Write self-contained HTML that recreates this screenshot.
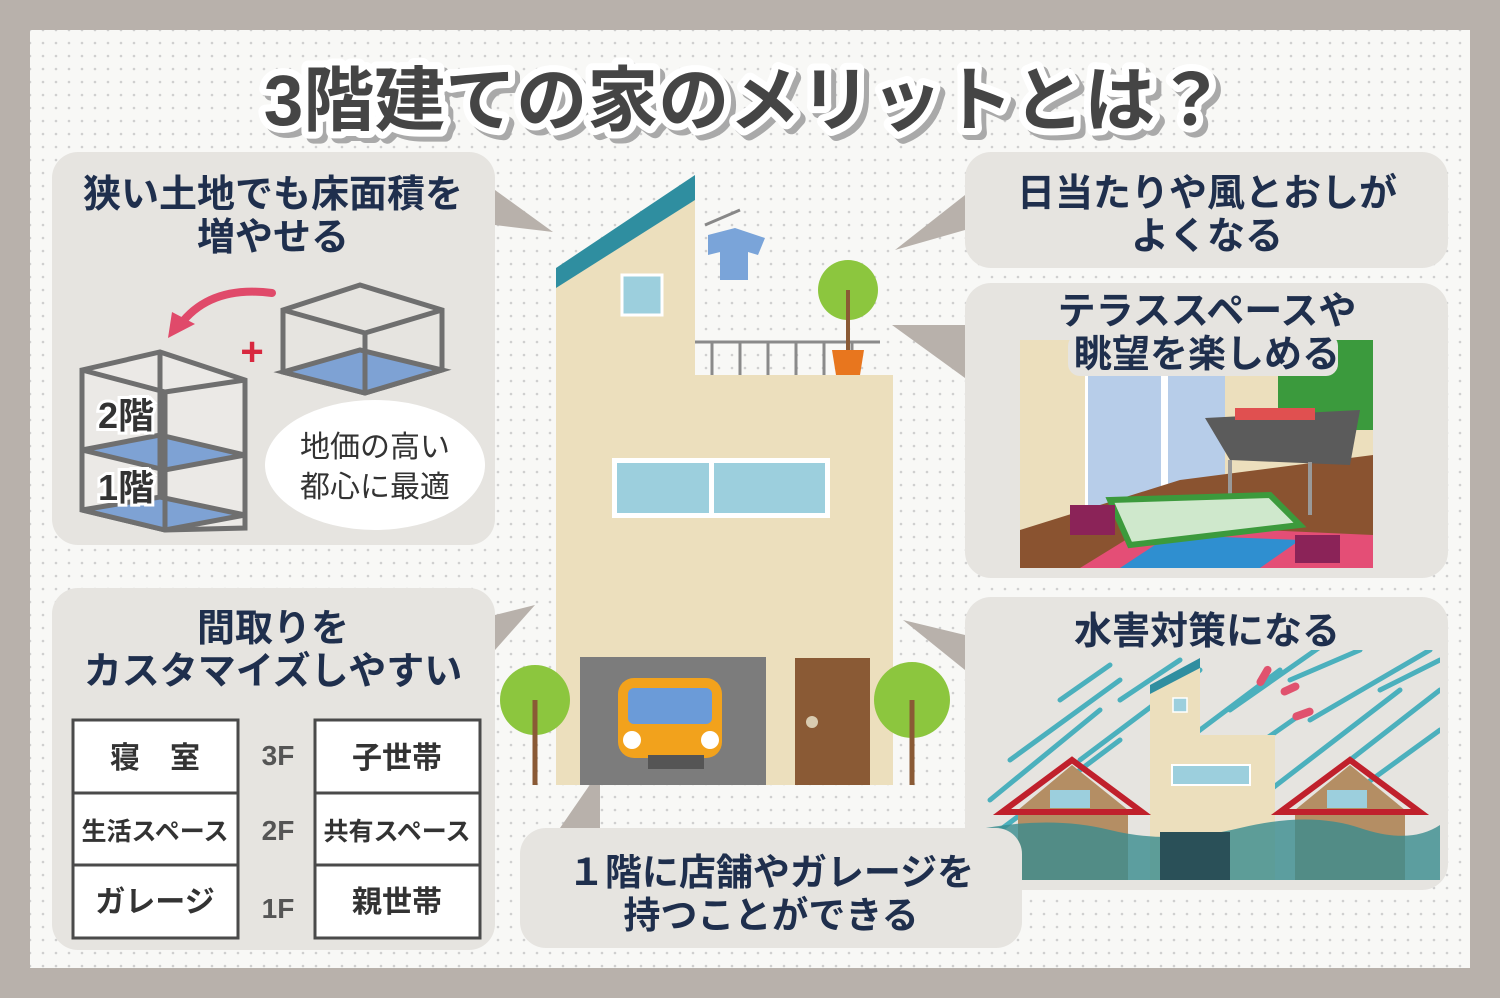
<!DOCTYPE html>
<html><head><meta charset="utf-8"><style>
html,body{margin:0;padding:0;background:#b8b1ab}
svg{display:block}
text{font-family:"Liberation Sans","Noto Sans CJK JP",sans-serif;font-weight:700}
</style></head><body>
<svg width="1500" height="998" viewBox="0 0 1500 998" xmlns="http://www.w3.org/2000/svg">
<defs>
<pattern id="dots" width="13" height="13" patternUnits="userSpaceOnUse">
<rect width="13" height="13" fill="#f8f8f6"/><circle cx="4" cy="4" r="1.3" fill="#cfcfcf"/></pattern>
<clipPath id="terr"><rect x="1020" y="340" width="353" height="228"/></clipPath>
<clipPath id="flood"><rect x="975" y="650" width="465" height="230"/></clipPath>
</defs>
<rect width="1500" height="998" fill="#b8b1ab"/>
<rect x="30" y="30" width="1440" height="938" fill="url(#dots)"/>

<!-- title -->
<text x="745" y="125" font-size="71" text-anchor="middle" fill="#fff" stroke="#a9a9a9" stroke-width="14" stroke-linejoin="round" transform="translate(5,5)">3階建ての家のメリットとは？</text>
<text x="745" y="125" font-size="71" text-anchor="middle" fill="#fff" stroke="#fff" stroke-width="14" stroke-linejoin="round">3階建ての家のメリットとは？</text>
<text x="745" y="125" font-size="71" text-anchor="middle" fill="#454545">3階建ての家のメリットとは？</text>

<!-- panels -->
<g fill="#e6e4e0">
<rect x="52" y="152" width="443" height="393" rx="26"/>
<rect x="52" y="588" width="443" height="362" rx="26"/>
<rect x="965" y="152" width="483" height="116" rx="26"/>
<rect x="965" y="283" width="483" height="295" rx="26"/>
<rect x="965" y="597" width="483" height="293" rx="26"/>
</g>
<!-- pointers -->
<g fill="#b8b1ab">
<polygon points="495,190 495,225 553,232"/>
<polygon points="495,615 495,650 535,605"/>
<polygon points="965,195 965,230 895,250"/>
<polygon points="965,325 965,378 892,325"/>
<polygon points="965,635 965,670 903,620"/>
<polygon points="560,828 600,828 600,770"/>
</g>

<g fill="#1f2f4d" font-size="38" text-anchor="middle">
<text x="273" y="207">狭い土地でも床面積を</text>
<text x="273" y="250">増やせる</text>
<text x="273" y="641">間取りを</text>
<text x="273" y="684">カスタマイズしやすい</text>
<text x="1207" y="206">日当たりや風とおしが</text>
<text x="1207" y="249">よくなる</text>
<text x="1207" y="644">水害対策になる</text>
</g>

<!-- boxes panel 1 -->
<g stroke="#6f6f6f" stroke-width="5" fill="none">
<polygon points="82,370 160,352 245,380 245,528 165,530 82,510" fill="#fff" fill-opacity="0.2"/>
<polygon points="82,450 160,435 245,455 165,470" fill="#7ea2d4"/>
<polygon points="82,510 160,497 245,515 165,530" fill="#7ea2d4"/>
<line x1="82" y1="370" x2="165" y2="392"/><line x1="165" y1="392" x2="245" y2="380"/>
<line x1="165" y1="392" x2="165" y2="530"/><line x1="160" y1="352" x2="160" y2="497"/>
<polygon points="283,310 360,285 442,310 442,370 365,393 283,372"/>
<polygon points="283,372 360,350 442,370 365,393" fill="#7ea2d4"/>
<line x1="283" y1="310" x2="365" y2="333"/><line x1="365" y1="333" x2="442" y2="310"/><line x1="365" y1="333" x2="365" y2="393"/>
</g>
<g font-size="36" fill="#333" stroke="#fff" stroke-width="6" paint-order="stroke">
<text x="98" y="428">2階</text>
<text x="98" y="500">1階</text>
</g>
<path d="M272,293 Q210,285 180,325" stroke="#e04a6a" stroke-width="8" fill="none" stroke-linecap="round"/>
<polygon points="168,338 172,312 195,324" fill="#e04a6a"/>
<text x="252" y="365" font-size="40" fill="#d8283f" text-anchor="middle">+</text>
<ellipse cx="375" cy="465" rx="110" ry="65" fill="#fff"/>
<g font-size="30" fill="#333" text-anchor="middle">
<text x="375" y="457" style="font-weight:400">地価の高い</text>
<text x="375" y="497" style="font-weight:400">都心に最適</text></g>

<!-- floor plan -->
<g stroke="#4a4a4a" stroke-width="3" fill="#fff">
<rect x="73" y="720" width="165" height="218"/>
<rect x="315" y="720" width="165" height="218"/>
<line x1="73" y1="793" x2="238" y2="793"/><line x1="73" y1="865" x2="238" y2="865"/>
<line x1="315" y1="793" x2="480" y2="793"/><line x1="315" y1="865" x2="480" y2="865"/>
</g>
<g font-size="30" fill="#333" text-anchor="middle">
<text x="155" y="768">寝　室</text><text x="155" y="840" font-size="25">生活スペース</text><text x="155" y="912">ガレージ</text>
<text x="397" y="768">子世帯</text><text x="397" y="840" font-size="25">共有スペース</text><text x="397" y="912">親世帯</text>
<text x="278" y="765" font-size="28" fill="#555">3F</text><text x="278" y="840" font-size="28" fill="#555">2F</text><text x="278" y="918" font-size="28" fill="#555">1F</text>
</g>

<!-- house -->
<polygon points="556,282 695,190 695,785 556,785" fill="#ecdfbd"/>
<rect x="695" y="375" width="198" height="410" fill="#ecdfbd"/>
<polygon points="556,268 695,175 695,200 556,288" fill="#2f8ea0"/>
<rect x="622" y="275" width="40" height="40" fill="#9ccfdd" stroke="#fff" stroke-width="3"/>
<rect x="612" y="458" width="218" height="60" fill="#fff"/>
<rect x="617" y="463" width="92" height="50" fill="#9ccfdd"/><rect x="714" y="463" width="111" height="50" fill="#9ccfdd"/>
<rect x="580" y="657" width="186" height="128" fill="#7c7c7c"/>
<rect x="795" y="658" width="75" height="127" fill="#8a5a35"/>
<circle cx="812" cy="722" r="6" fill="#d9cbb0"/>
<g stroke="#8a8a8a" stroke-width="3"><line x1="695" y1="342" x2="880" y2="342"/>
<line x1="712" y1="342" x2="712" y2="375"/><line x1="740" y1="342" x2="740" y2="375"/><line x1="768" y1="342" x2="768" y2="375"/><line x1="796" y1="342" x2="796" y2="375"/><line x1="824" y1="342" x2="824" y2="375"/><line x1="852" y1="342" x2="852" y2="375"/></g>
<line x1="705" y1="225" x2="740" y2="210" stroke="#888" stroke-width="3"/>
<polygon points="708,235 735,228 765,238 758,255 748,252 748,280 720,280 720,252 708,255" fill="#7aa4d9"/>
<circle cx="848" cy="290" r="30" fill="#8cc63e"/><line x1="848" y1="290" x2="848" y2="352" stroke="#8a5a35" stroke-width="4"/>
<polygon points="832,350 864,350 860,375 836,375" fill="#e8761e"/>
<!-- car -->
<rect x="618" y="678" width="104" height="80" rx="16" fill="#f2a21c"/>
<rect x="628" y="688" width="84" height="36" rx="6" fill="#6b9bd8"/>
<rect x="648" y="755" width="56" height="14" fill="#555"/>
<circle cx="632" cy="740" r="9" fill="#fff"/><circle cx="710" cy="740" r="9" fill="#fff"/>
<!-- trees -->
<circle cx="535" cy="700" r="35" fill="#8cc63e"/><line x1="535" y1="700" x2="535" y2="785" stroke="#8a5a35" stroke-width="5"/>
<circle cx="912" cy="700" r="38" fill="#8cc63e"/><line x1="912" y1="700" x2="912" y2="785" stroke="#8a5a35" stroke-width="5"/>

<!-- terrace -->
<g clip-path="url(#terr)">
<rect x="1020" y="340" width="353" height="228" fill="#ecdfbd"/>
<rect x="1085" y="340" width="140" height="170" fill="#fff"/>
<rect x="1088" y="345" width="73" height="165" fill="#b7cde9"/><rect x="1168" y="345" width="57" height="140" fill="#b7cde9"/>
<rect x="1278" y="340" width="95" height="90" fill="#3b9a3d"/>
<polygon points="1020,568 1020,530 1180,480 1373,455 1373,568" fill="#8a5330"/>
<polygon points="1080,568 1150,525 1373,535 1373,568" fill="#e44e76"/>
<polygon points="1120,568 1170,535 1300,540 1260,568" fill="#2f8fd0"/>
<polygon points="1205,418 1360,410 1350,465 1230,460" fill="#5b5b5b"/>
<line x1="1230" y1="460" x2="1230" y2="510" stroke="#999" stroke-width="4"/><line x1="1310" y1="462" x2="1310" y2="515" stroke="#999" stroke-width="4"/>
<rect x="1235" y="408" width="80" height="12" fill="#e05050"/>
<polygon points="1110,500 1270,495 1300,525 1130,545" fill="#cfe8cc" stroke="#3c9a3c" stroke-width="6"/>
<rect x="1070" y="505" width="45" height="30" fill="#8b2358"/>
<rect x="1295" y="535" width="45" height="28" fill="#8b2358"/>
</g>
<rect x="1050" y="292" width="314" height="42" fill="#e6e4e0"/>
<rect x="1068" y="334" width="270" height="42" fill="#e6e4e0" rx="12"/>
<text x="1207" y="324" font-size="38" fill="#1f2f4d" text-anchor="middle">テラススペースや</text>
<text x="1207" y="367" font-size="38" fill="#1f2f4d" text-anchor="middle">眺望を楽しめる</text>

<!-- flood -->
<g clip-path="url(#flood)" stroke="#4bb0bd" stroke-width="5" stroke-linecap="round">
<path d="M990,800 L1100,710 M1010,760 L1120,680 M1000,830 L1120,740 M1060,700 L1110,665 M1080,760 L1200,670 M1120,700 L1180,660 M1160,760 L1280,670 M1230,710 L1330,640 M1270,790 L1400,690 M1310,720 L1430,650 M1350,760 L1440,690 M1380,690 L1440,660 M1290,680 L1360,650 M1330,810 L1440,730 M1040,820 L1080,790 M1250,750 L1300,715"/>
</g>
<g clip-path="url(#flood)">
<polygon points="1150,688 1200,660 1200,880 1150,880" fill="#ecdfbd"/>
<rect x="1200" y="735" width="75" height="145" fill="#ecdfbd"/>
<polygon points="1150,685 1200,658 1200,668 1150,694" fill="#2f8ea0"/>
<rect x="1173" y="698" width="14" height="14" fill="#9ccfdd" stroke="#fff" stroke-width="1.5"/>
<rect x="1172" y="765" width="78" height="20" fill="#9ccfdd" stroke="#fff" stroke-width="2"/>
<polygon points="1018,810 1072,765 1128,810 1128,880 1018,880" fill="#b48e64"/>
<rect x="1050" y="790" width="40" height="18" fill="#9ccfdd"/>
<polygon points="1002,812 1072,760 1142,812" fill="none" stroke="#c0202c" stroke-width="6"/>
<polygon points="1295,810 1350,765 1405,810 1405,880 1295,880" fill="#b48e64"/>
<rect x="1327" y="790" width="40" height="18" fill="#9ccfdd"/>
<polygon points="1280,812 1350,760 1420,812" fill="none" stroke="#c0202c" stroke-width="6"/>
<path d="M975,830 Q1050,815 1110,830 T1240,828 T1360,828 T1440,825 L1440,880 L975,880 Z" fill="#3a8c8f" fill-opacity="0.8"/>
<rect x="1160" y="832" width="70" height="48" fill="#2a5058"/>
</g>
<g fill="#e0526e"><rect x="1260" y="665" width="8" height="22" rx="4" transform="rotate(30 1264 676)"/><rect x="1280" y="685" width="20" height="8" rx="4" transform="rotate(-25 1290 689)"/><rect x="1292" y="710" width="22" height="8" rx="4" transform="rotate(-20 1303 714)"/></g>

<!-- bottom center panel on top -->
<rect x="520" y="828" width="502" height="120" rx="26" fill="#e6e4e0"/>
<g fill="#1f2f4d" font-size="37" text-anchor="middle">
<text x="771" y="885">１階に店舗やガレージを</text>
<text x="771" y="928">持つことができる</text>
</g>
</svg>
</body></html>
